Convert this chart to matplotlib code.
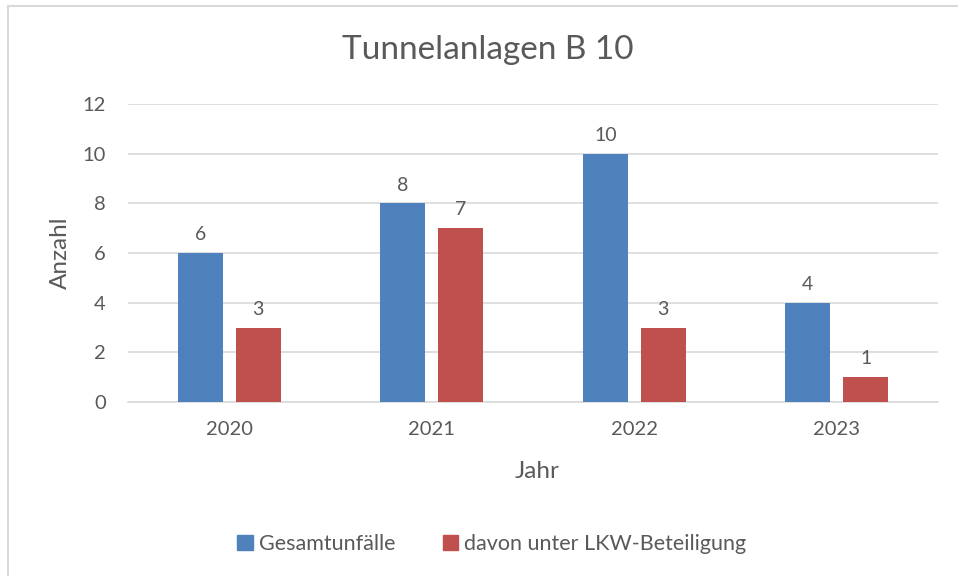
import matplotlib
matplotlib.use("Agg")
import matplotlib.pyplot as plt
from matplotlib.lines import Line2D
import numpy as np

years = ["2020", "2021", "2022", "2023"]
total = [6, 8, 10, 4]
truck = [3, 7, 3, 1]
series_names = ["Gesamtunfälle", "davon unter LKW-Beteiligung"]
y_ticks = [0, 2, 4, 6, 8, 10, 12]

BLUE = "#4F81BD"
RED = "#C0504D"
TEXT = "#595959"
GRID = "#D9D9D9"

plt.rcParams["font.family"] = ["Lato", "DejaVu Sans"]

W, H = 958, 576
fig = plt.figure(figsize=(W / 100, H / 100), dpi=100)
ax = fig.add_axes([128 / W, 1 - 402 / H, (938 - 128) / W, (402 - 104) / H])

x = np.arange(len(years))
bw = 0.222
off = 0.143
b1 = ax.bar(x - off, total, bw, color=BLUE, zorder=3)
b2 = ax.bar(x + off, truck, bw, color=RED, zorder=3)

for bars, vals in ((b1, total), (b2, truck)):
    for rect, v in zip(bars, vals):
        ax.annotate(str(v), (rect.get_x() + rect.get_width() / 2, v),
                    xytext=(0, 7), textcoords="offset points",
                    ha="center", va="bottom", fontsize=14, color=TEXT)

ax.set_xlim(-0.5, len(years) - 0.5)
ax.set_ylim(0, 12)
ax.set_yticks(y_ticks)
ax.set_xticks(x)
ax.set_xticklabels(years)
ax.tick_params(axis="both", length=0, labelsize=14.5, labelcolor=TEXT)
ax.tick_params(axis="y", pad=16)
ax.tick_params(axis="x", pad=14)
ax.grid(axis="y", color=GRID, linewidth=1.2, zorder=0)
for s in ("top", "right", "left"):
    ax.spines[s].set_visible(False)
ax.spines["bottom"].set_color(GRID)
ax.spines["bottom"].set_linewidth(1.2)

fig.text(488 / W, 1 - 50 / H, "Tunnelanlagen B 10", ha="center", va="center",
         fontsize=24, color=TEXT)
fig.text(60 / W, 1 - 253 / H, "Anzahl", rotation=90, ha="center", va="center",
         fontsize=17.5, color=TEXT)
fig.text(537 / W, 1 - 471 / H, "Jahr", ha="center", va="center",
         fontsize=17.5, color=TEXT)

handles = [plt.Rectangle((0, 0), 1, 1, color=BLUE),
           plt.Rectangle((0, 0), 1, 1, color=RED)]
fig.legend(handles, series_names, loc="center", bbox_to_anchor=(492 / W, 1 - 544 / H),
           ncol=2, frameon=False, fontsize=15.5, labelcolor=TEXT,
           handlelength=0.7, handleheight=0.7, handletextpad=0.3, columnspacing=2.2)

# chart frame
fig.add_artist(Line2D([7.5 / W, 7.5 / W], [0, 1 - 5.5 / H], transform=fig.transFigure,
                      color=GRID, linewidth=1.5))
fig.add_artist(Line2D([7.5 / W, 1], [1 - 5.5 / H, 1 - 5.5 / H], transform=fig.transFigure,
                      color=GRID, linewidth=1.5))

fig.savefig("out.png", dpi=100, facecolor="white")
